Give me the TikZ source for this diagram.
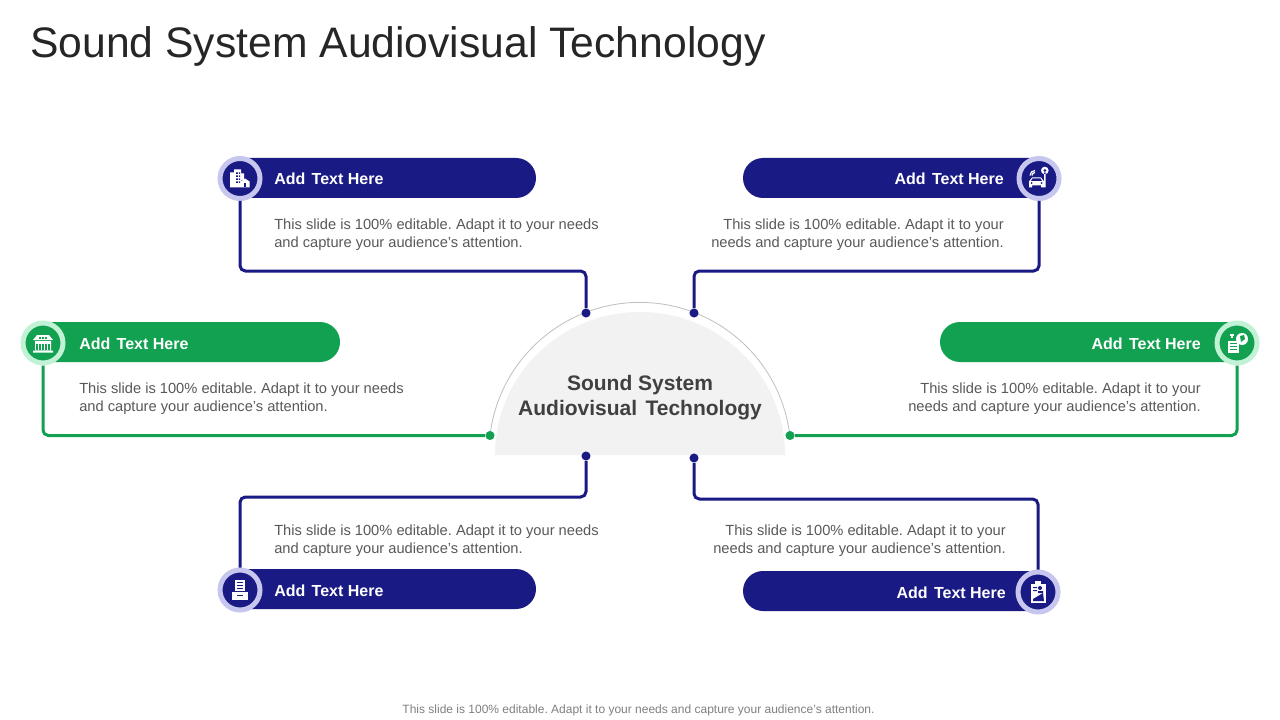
\documentclass[tikz,border=0pt]{standalone}
\usepackage{fontspec}
\usetikzlibrary{shapes.misc}
\setmainfont{Liberation Sans}
\frenchspacing
\definecolor{navy}{HTML}{1A1A84}
\definecolor{grn}{HTML}{12A150}
\definecolor{navyring}{HTML}{C6C6EE}
\definecolor{grnring}{HTML}{C2F2D6}
\definecolor{halo}{HTML}{F2F2F2}
\definecolor{arcg}{HTML}{BFBFBF}
\definecolor{desc}{HTML}{595959}
\tikzset{
  pillw/.style={rounded rectangle,rounded rectangle west arc=none,minimum height=30pt,minimum width=216pt,inner sep=0,fill=#1},
  pille/.style={rounded rectangle,rounded rectangle east arc=none,minimum height=30pt,minimum width=216pt,inner sep=0,fill=#1},
  ring/.style n args={2}{circle,minimum size=30pt,inner sep=0,fill=#1,draw=#2,line width=3.75pt},
  dotn/.style={circle,minimum size=6.8pt,inner sep=0,fill=#1},
  conn/.style={draw=#1,line width=2.25pt,rounded corners=4pt},
  head/.style={font=\fontsize{12}{14}\selectfont\bfseries,text=white,inner sep=0},
  body/.style={font=\fontsize{11}{13.5}\selectfont,text=desc,inner sep=0},
  icon/.style={fill=white,draw=none},
}
\newcommand{\addtxt}{Add\hspace{.12em} Text Here}
\begin{document}
\begin{tikzpicture}[x=0.75pt,y=-0.75pt]
\useasboundingbox (0,0) rectangle (1280,720);
\fill[white] (0,0) rectangle (1280,720);
\node[anchor=base west,inner sep=0,font=\fontsize{32}{38}\selectfont,text=black!85] (title) at (30,57.5) {Sound System Audiovisual Technology};
% centre
\draw[arcg,line width=.6pt] (490,435) arc[start angle=173,end angle=7,x radius=151,y radius=-151];
\fill[halo] (495,455) arc[start angle=180,end angle=0,x radius=145,y radius=-143] -- cycle;
\node[align=center,inner sep=0,font=\fontsize{15.75}{18.75}\selectfont\bfseries,text=black!75] (centre) at (640,397.5) {Sound System\\Audiovisual\hspace{.12em} Technology};
% dots
\node[dotn=navy] (d1) at (586,313) {};
\node[dotn=navy] (d2) at (694,313) {};
\node[dotn=grn] (d3) at (490,435.5) {};
\node[dotn=grn] (d4) at (790,435.5) {};
\node[dotn=navy] (d5) at (586,456) {};
\node[dotn=navy] (d6) at (694,458) {};
% pills
\node[pillw=navy] (p1) at (392,178) {};
\node[pille=navy] (p2) at (887,178) {};
\node[pillw=grn] (p3) at (196,342) {};
\node[pille=grn] (p4) at (1084,342) {};
\node[pillw=navy] (p5) at (392,589) {};
\node[pille=navy] (p6) at (887,591) {};
% rings
\node[ring={navy}{navyring}] (c1) at (240,178.5) {};
\node[ring={navy}{navyring}] (c2) at (1039,178.5) {};
\node[ring={grn}{grnring}] (c3) at (43,343) {};
\node[ring={grn}{grnring}] (c4) at (1237,343) {};
\node[ring={navy}{navyring}] (c5) at (240,590) {};
\node[ring={navy}{navyring}] (c6) at (1038,592) {};
% connectors
\coordinate (k1) at (586,271);
\coordinate (k2) at (694,271);
\coordinate (k5) at (586,497);
\coordinate (k6) at (694,499);
\draw[conn=navy] (c1.south) |- (k1) -- (d1);
\draw[conn=navy] (c2.south) |- (k2) -- (d2);
\draw[conn=grn] (c3.south) |- (d3);
\draw[conn=grn] (c4.south) |- (d4);
\draw[conn=navy] (c5.north) |- (k5) -- (d5);
\draw[conn=navy] (c6.north) |- (k6) -- (d6);
% headings
\node[head,anchor=base west] (h1) at (274,185) {\addtxt};
\node[head,anchor=base east] (h2) at (1004,185) {\addtxt};
\node[head,anchor=base west] (h3) at (79,349) {\addtxt};
\node[head,anchor=base east] (h4) at (1201,349) {\addtxt};
\node[head,anchor=base west] (h5) at (274,596) {\addtxt};
\node[head,anchor=base east] (h6) at (1006,598) {\addtxt};
% bodies
\node[body,anchor=west,align=left] (b1) at (274,235) {This slide is 100\% editable. Adapt it to your needs\\and capture your audience's attention.};
\node[body,anchor=east,align=right] (b2) at (1004,235) {This slide is 100\% editable. Adapt it to your\\needs and capture your audience's attention.};
\node[body,anchor=west,align=left] (b3) at (79,399) {This slide is 100\% editable. Adapt it to your needs\\and capture your audience's attention.};
\node[body,anchor=east,align=right] (b4) at (1201,399) {This slide is 100\% editable. Adapt it to your\\needs and capture your audience's attention.};
\node[body,anchor=west,align=left] (b5) at (274,541) {This slide is 100\% editable. Adapt it to your needs\\and capture your audience's attention.};
\node[body,anchor=east,align=right] (b6) at (1006,541) {This slide is 100\% editable. Adapt it to your\\needs and capture your audience's attention.};
\node[anchor=base,inner sep=0,font=\fontsize{9}{11}\selectfont,text=black!50] (foot) at (638.5,713) {This slide is 100\% editable. Adapt it to your needs and capture your audience's attention.};
% icons
\begin{scope}[shift={(240,178.5)}]
 \fill[icon] (-10,-6) rectangle (-6,9) (-6,-9) rectangle (1,9) (1,-5) rectangle (4,2);
 \fill[icon] (1,3) -- (5,0) -- (9.5,3) -- (9.5,9) -- (1,9) -- cycle;
 \foreach \y in {-6,-3,0,3}{\fill[navy] (-4,\y) rectangle (-2,\y+1.5) (-1,\y) rectangle (0,\y+1.5);}
 \fill[navy] (4,5) rectangle (6,9);
\end{scope}
\begin{scope}[shift={(1039,178.5)}]
 \fill[icon] (-10,9) -- (-10,3) -- (-7,-1) -- (2,-1) -- (5,3) -- (5,9) -- (2,9) -- (2,7) -- (-7,7) -- (-7,9) -- cycle;
 \fill[navy] (-6.5,0) -- (1.5,0) -- (3,2.5) -- (-8,2.5) -- cycle;
 \fill[navy] (-7.5,4.5) circle (1) (2.5,4.5) circle (1);
 \fill[icon] (5.8,-8) circle (3.8) (5.2,-6) rectangle (6.6,9);
 \fill[navy] (5.8,-8) circle (1.5);
 \draw[white,line width=.9pt] (-7,-3) arc[start angle=180,end angle=90,x radius=3,y radius=-3] (-9,-3) arc[start angle=180,end angle=90,x radius=5,y radius=-5];
\end{scope}
\begin{scope}[shift={(43,343)}]
 \fill[icon] (-10,-3) -- (-6,-8) -- (6,-8) -- (10,-3) -- cycle;
 \fill[icon] (-8,-2) rectangle (8,7) (-10,7.5) rectangle (10,9.5);
 \foreach \x in {-6,-3,0,3,6}{\fill[grn] (\x-.6,1) rectangle (\x+.6,6.5);}
 \foreach \x in {-3,0,3}{\fill[grn] (\x-.7,-6) rectangle (\x+.7,-4.5);}
\end{scope}
\begin{scope}[shift={(1237,343)}]
 \fill[icon] (-9,-2) rectangle (2,10);
 \foreach \y in {0,3,6}{\fill[grn] (-7,\y) rectangle (0,\y+.9);}
 \fill[icon] (5,-4) circle (6);
 \fill[grn] (3,-7) -- (7,-8) -- (8,-4) -- (4,-1) -- cycle;
 \draw[white,line width=.8pt] (-7,-8) -- (-3,-8) (-6,-6) -- (-4,-6);
\end{scope}
\begin{scope}[shift={(240,590)}]
 \fill[icon] (-5,-10) rectangle (5,1);
 \foreach \y in {-8,-5,-2}{\fill[navy] (-3,\y) rectangle (3,\y+1);}
 \fill[icon] (-8,2) rectangle (8,10);
 \fill[navy] (-3,4.5) rectangle (3,6);
\end{scope}
\begin{scope}[shift={(1038,592)}]
 \fill[icon] (-7,-8) rectangle (8,11);
 \fill[icon] (-3,-11) rectangle (3,-7);
 \fill[navy] (-5,-5) rectangle (-1,-4) (-5,-2) rectangle (-1,-1);
 \fill[navy] (2,-4) circle (2) (0,1) rectangle (5,-1);
 \fill[navy] (-5,9) -- (-5,7) -- (5,1) -- (6,9) -- cycle;
\end{scope}
\end{tikzpicture}
\end{document}
